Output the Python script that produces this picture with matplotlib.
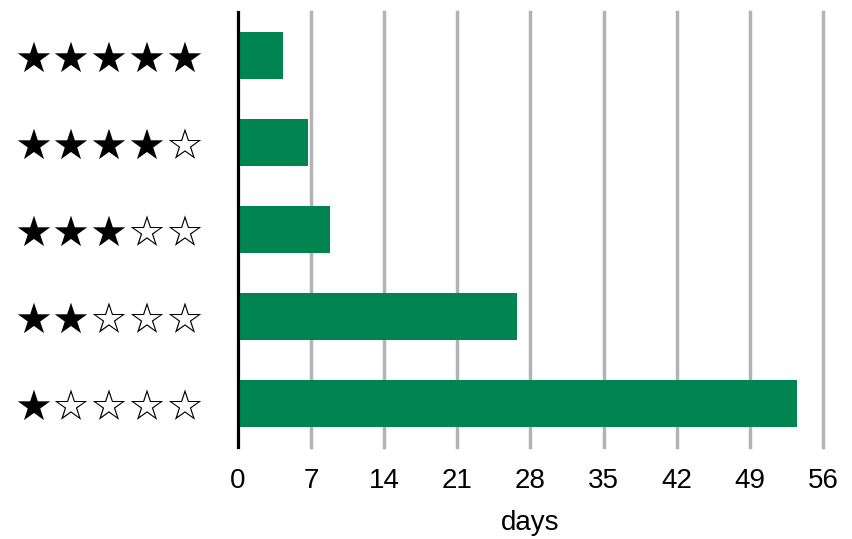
import matplotlib
matplotlib.use("Agg")
import matplotlib.pyplot as plt

ratings = ["★☆☆☆☆", "★★☆☆☆", "★★★☆☆", "★★★★☆", "★★★★★"]
days = [53.5, 26.7, 8.8, 6.7, 4.3]
xticks = [0, 7, 14, 21, 28, 35, 42, 49, 56]

fig = plt.figure(figsize=(8.52, 5.39), dpi=100)
ax = fig.add_axes([0.2793, 0.1707, 0.6866, 0.807])
ypos = list(range(len(ratings)))
ax.barh(ypos, days, height=0.53, color="#008450", zorder=3)
ax.set_xlim(0, 56)
ax.set_ylim(-0.5, 4.5)
ax.set_xticks(xticks)
ax.set_xticklabels([str(t) for t in xticks], fontsize=20, family=["Liberation Sans"])
ax.set_yticks(ypos)
ax.set_yticklabels(ratings, fontsize=30.5, family=["DejaVu Sans"])
ax.tick_params(axis="x", length=0, pad=15)
ax.tick_params(axis="y", length=0, pad=24)
ax.xaxis.grid(True, color="#b3b3b3", linewidth=2.5, zorder=0)
for gl in ax.get_xgridlines():
    gl.set_clip_on(False)
for s in ["top", "right", "bottom"]:
    ax.spines[s].set_visible(False)
ax.spines["left"].set_linewidth(2.2)
ax.spines["left"].set_color("black")
ax.spines["left"].set_zorder(4)
ax.set_xlabel("days", fontsize=20, family=["Liberation Sans"], labelpad=12)
fig.savefig("out.png", dpi=100)
